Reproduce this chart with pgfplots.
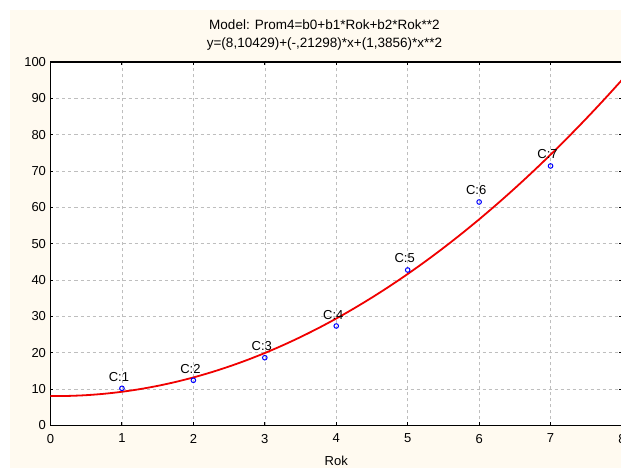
\documentclass[border=0pt]{standalone}
\usepackage{pgfplots}
\pgfplotsset{compat=1.18}
\usepackage{fontspec}
\setmainfont{Liberation Sans}
\definecolor{panel}{HTML}{FFFAF0}
\definecolor{gridgray}{HTML}{BEBEBE}
\definecolor{fitred}{HTML}{F00000}
\definecolor{ptblue}{HTML}{0000FF}

\begin{document}
\begin{tikzpicture}[x=1pt,y=1pt]
\useasboundingbox (0pt,0pt) rectangle (621pt,468pt);
\fill[white] (0pt,0pt) rectangle (621pt,468pt);
\fill[panel] (10pt,0pt) rectangle (621pt,458pt);
\begin{axis}[
  at={(50.5pt,42.5pt)}, anchor=south west,
  scale only axis, width=571.5pt, height=363.5pt,
  xmin=0, xmax=8, ymin=0, ymax=100,
  xtick={0,1,...,8}, ytick={0,10,...,100},
  axis background/.style={fill=white},
  grid=major,
  major grid style={gridgray, dash pattern=on 3pt off 3pt, line width=0.6pt},
  axis line style={line width=1.6pt, black},
  tick align=inside, major tick length=3pt,
  tick style={black, line width=1pt},
  ticklabel style={font=\fontsize{13}{15}\selectfont},
  xticklabel style={yshift=-5pt},
  yticklabel style={xshift=-1pt},
  /pgf/number format/assume math mode=true,
  xlabel={Rok},
  xlabel style={font=\fontsize{13}{15}\selectfont, at={(axis description cs:0.5,0)}, anchor=base, yshift=-40pt},
  clip=true,
]
% fitted quadratic, tabulated every 0.25
\addplot[fitred, line width=1.8pt, smooth] coordinates {
 (0,8.1043) (0.25,8.1376) (0.5,8.3442) (0.75,8.7240) (1,9.2769)
 (1.25,10.0031) (1.5,10.9024) (1.75,11.9750) (2,13.2207) (2.25,14.6397)
 (2.5,16.2318) (2.75,17.9972) (3,19.9358) (3.25,22.0475) (3.5,24.3325)
 (3.75,26.7906) (4,29.4220) (4.25,32.2265) (4.5,35.2043) (4.75,38.3552)
 (5,41.6794) (5.25,45.1767) (5.5,48.8473) (5.75,52.6911) (6,56.7080)
 (6.25,60.8982) (6.5,65.2615) (6.75,69.7981) (7,74.5078) (7.25,79.3908)
 (7.5,84.4469) (7.75,89.6763) (8,95.0789)
};
% observed cases
\addplot[only marks, mark=o, mark size=2.3pt, mark options={ptblue, fill=white, line width=1pt},
  point meta=explicit symbolic,
  nodes near coords,
  nodes near coords style={font=\fontsize{13}{15}\selectfont, text=black, anchor=base, inner sep=0, xshift=-3pt, yshift=7pt}]
 coordinates {
 (1,10.23) [C:1]
 (2,12.43) [C:2]
 (3,18.65) [C:3]
 (4,27.37) [C:4]
 (5,42.78) [C:5]
 (6,61.49) [C:6]
 (7,71.40) [C:7]
};
\end{axis}
\node[font=\fontsize{13.5}{15}\selectfont, anchor=base, inner sep=0] at (324.5pt,438pt) {Model: Prom4=b0+b1*Rok+b2*Rok**2};
\node[font=\fontsize{13.5}{15}\selectfont, anchor=base, inner sep=0] at (324.5pt,420pt) {y=(8,10429)+(-,21298)*x+(1,3856)*x**2};
\end{tikzpicture}
\end{document}
